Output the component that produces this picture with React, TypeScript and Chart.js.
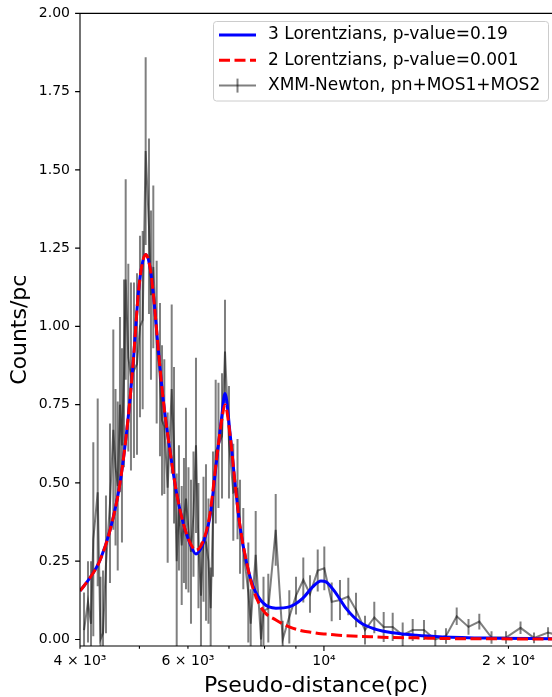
import React, { useEffect, useRef } from 'react';
import { Chart, registerables } from 'chart.js';

Chart.register(...registerables);

const FONT = '"DejaVu Sans", "Liberation Sans", sans-serif';

// Observed data (XMM-Newton, pn+MOS1+MOS2)
const distances = [
  4061, 4122, 4169, 4205, 4275, 4320, 4361, 4410, 4477, 4533,
  4571, 4609, 4648, 4683, 4719, 4749, 4796, 4844, 4899, 4955,
  5011, 5062, 5119, 5183, 5222, 5268, 5335, 5402, 5443, 5490,
  5560, 5645, 5694, 5752, 5801, 5861, 5911, 5956, 6012, 6069,
  6126, 6184, 6242, 6301, 6361, 6421, 6481, 6535, 6592, 6659,
  6729, 6819, 6896, 7000, 7114, 7228, 7296, 7387, 7527, 7595,
  7739, 7895, 7969, 8114, 8343, 8565, 8780, 9004, 9254, 9490,
  9769, 10014, 10296, 10622, 10959, 11280, 11668, 12082, 12516, 12947,
  13442, 13957, 14562, 15193, 15817, 16466, 17212, 17925, 18766, 19817,
  20927, 22016, 23205, 24457,
];
const counts = [
  0.03, 0.12, 0.05, 0.32, 0.47, 0.0, 0.02, 0.24, 0.435, 0.67,
  0.55, 0.49, 0.75, 0.62, 0.85, 1.15, 0.9, 0.84, 0.86, 0.88,
  1.0, 1.02, 1.56, 1.32, 1.1, 1.19, 0.95, 0.83, 0.7, 0.68,
  0.485, 0.8, 0.62, 0.25, 0.42, 0.3, 0.38, 0.45, 0.35, 0.28,
  0.4, 0.62, 0.3, 0.14, 0.32, 0.31, 0.25, 0.1, 0.4, 0.6,
  0.62, 0.65, 0.92, 0.63, 0.47, 0.48, 0.36, 0.29, 0.15, 0.05,
  0.27, 0.0, 0.09, 0.1, 0.35, 0.0, 0.072, 0.14, 0.19, 0.145,
  0.22, 0.227, 0.12, 0.126, 0.137, 0.094, 0.03, 0.07, 0.04, 0.04,
  0.014, 0.03, 0.03, 0.0, 0.011, 0.074, 0.04, 0.057, 0.006, 0.006,
  0.037, 0.005, 0.022, 0.01,
];
const countErrors = [
  0.12, 0.13, 0.2, 0.31, 0.3, 0.2, 0.2, 0.22, 0.255, 0.32,
  0.25, 0.27, 0.28, 0.31, 0.3, 0.32, 0.3, 0.3, 0.28, 0.29,
  0.29, 0.285, 0.3, 0.28, 0.27, 0.26, 0.26, 0.245, 0.24, 0.215,
  0.24, 0.27, 0.25, 0.28, 0.2, 0.19, 0.2, 0.29, 0.2, 0.23,
  0.2, 0.28, 0.2, 0.17, 0.2, 0.25, 0.2, 0.13, 0.2, 0.23,
  0.2, 0.2, 0.165, 0.18, 0.155, 0.16, 0.15, 0.13, 0.16, 0.11,
  0.14, 0.1, 0.11, 0.11, 0.115, 0.06, 0.085, 0.06, 0.072, 0.06,
  0.067, 0.07, 0.062, 0.064, 0.06, 0.055, 0.046, 0.05, 0.048, 0.045,
  0.04, 0.035, 0.032, 0.03, 0.025, 0.028, 0.025, 0.025, 0.02, 0.02,
  0.02, 0.017, 0.017, 0.017,
];

// Model curves
const modelDistances = [
  4000, 4153, 4312, 4478, 4649, 4795, 4887, 4980, 5042, 5119,
  5202, 5267, 5366, 5468, 5607, 5750, 5894, 6045, 6182, 6354,
  6516, 6684, 6811, 6896, 7027, 7160, 7296, 7481, 7669, 7964,
  8350, 8778, 9232, 9586, 9890, 10077, 10464, 10866, 11422, 12161,
  12946, 14134, 15620, 18850, 23553,
];
const threeLorentz = [
  0.155, 0.197, 0.253, 0.349, 0.5, 0.711, 0.89, 1.106, 1.19, 1.23,
  1.19, 1.106, 0.93, 0.765, 0.605, 0.467, 0.371, 0.307, 0.273, 0.307,
  0.39, 0.573, 0.711, 0.786, 0.66, 0.5, 0.36, 0.243, 0.168, 0.116,
  0.1, 0.104, 0.131, 0.168, 0.187, 0.184, 0.147, 0.099, 0.056, 0.032,
  0.021, 0.013, 0.008, 0.004, 0.002,
];
const twoLorentz = [
  0.155, 0.197, 0.253, 0.349, 0.5, 0.711, 0.89, 1.106, 1.19, 1.23,
  1.19, 1.106, 0.93, 0.765, 0.605, 0.467, 0.372, 0.31, 0.285, 0.315,
  0.4, 0.58, 0.7, 0.75, 0.655, 0.5, 0.362, 0.245, 0.16, 0.092,
  0.062, 0.04, 0.027, 0.022, 0.018, 0.017, 0.014, 0.012, 0.01, 0.008,
  0.006, 0.005, 0.003, 0.002, 0.001,
];

const yTickValues = [0, 0.25, 0.5, 0.75, 1.0, 1.25, 1.5, 1.75, 2.0];
const xTickValues = [4000, 5000, 6000, 7000, 8000, 9000, 10000, 20000];
const xMajorTicks = [10000];
const xTickLabels: Record<number, string> = {
  4000: '4 × 10³',
  6000: '6 × 10³',
  10000: '10⁴',
  20000: '2 × 10⁴',
};

const legendLabels = [
  '3 Lorentzians, p-value=0.19',
  '2 Lorentzians, p-value=0.001',
  'XMM-Newton, pn+MOS1+MOS2',
];

const GRAY = 'rgba(0,0,0,0.5)';
const BLUE = '#0000ff';
const RED = '#ff0000';

export default function App() {
  const ref = useRef<HTMLCanvasElement>(null);

  useEffect(() => {
    const canvas = ref.current;
    if (!canvas) return;

    const errorBars = {
      id: 'errorBars',
      beforeDatasetsDraw(chart: any) {
        const { ctx, chartArea: a, scales } = chart;
        const x = scales.x;
        const y = scales.y;
        ctx.save();
        ctx.beginPath();
        ctx.rect(a.left, a.top, a.right - a.left, a.bottom - a.top);
        ctx.clip();
        ctx.strokeStyle = GRAY;
        ctx.lineWidth = 2;
        for (let i = 0; i < distances.length; i++) {
          const px = x.getPixelForValue(distances[i]);
          ctx.beginPath();
          ctx.moveTo(px, y.getPixelForValue(counts[i] - countErrors[i]));
          ctx.lineTo(px, y.getPixelForValue(counts[i] + countErrors[i]));
          ctx.stroke();
        }
        ctx.restore();
      },
    };

    const frame = {
      id: 'frame',
      afterDraw(chart: any) {
        const { ctx, chartArea: a, scales } = chart;
        const x = scales.x;
        const y = scales.y;
        ctx.save();
        ctx.strokeStyle = '#000';
        ctx.lineWidth = 1.1;
        ctx.beginPath();
        ctx.moveTo(a.left, a.top);
        ctx.lineTo(a.left, a.bottom);
        ctx.moveTo(a.left, a.bottom);
        ctx.lineTo(a.right + 2, a.bottom);
        ctx.moveTo(a.left, a.top);
        ctx.lineTo(a.right + 2, a.top);
        ctx.stroke();
        // y ticks
        ctx.beginPath();
        for (const v of yTickValues) {
          const py = y.getPixelForValue(v);
          ctx.moveTo(a.left - 4.9, py);
          ctx.lineTo(a.left, py);
        }
        // x ticks
        for (const v of xTickValues) {
          const px = x.getPixelForValue(v);
          const len = xMajorTicks.includes(v) ? 4.9 : 2.8;
          ctx.moveTo(px, a.bottom);
          ctx.lineTo(px, a.bottom + len);
        }
        ctx.stroke();

        // legend
        const bx = 213.5, by = 21.5, bw = 335, bh = 79.5;
        ctx.beginPath();
        ctx.roundRect(bx, by, bw, bh, 3);
        ctx.fillStyle = 'rgba(255,255,255,0.8)';
        ctx.fill();
        ctx.strokeStyle = '#cccccc';
        ctx.lineWidth = 1;
        ctx.stroke();

        const rows = [35, 60.3, 85.6];
        const hx0 = 219, hx1 = 256;
        // blue
        ctx.lineCap = 'butt';
        ctx.strokeStyle = BLUE;
        ctx.lineWidth = 3;
        ctx.beginPath();
        ctx.moveTo(hx0, rows[0]);
        ctx.lineTo(hx1, rows[0]);
        ctx.stroke();
        // red dashed
        ctx.strokeStyle = RED;
        ctx.setLineDash([11, 4.5]);
        ctx.beginPath();
        ctx.moveTo(hx0, rows[1]);
        ctx.lineTo(hx1, rows[1]);
        ctx.stroke();
        ctx.setLineDash([]);
        // gray with error bar
        ctx.strokeStyle = GRAY;
        ctx.lineWidth = 2;
        ctx.beginPath();
        ctx.moveTo(hx0, rows[2]);
        ctx.lineTo(hx1, rows[2]);
        ctx.stroke();
        ctx.beginPath();
        ctx.moveTo((hx0 + hx1) / 2, rows[2] - 7);
        ctx.lineTo((hx0 + hx1) / 2, rows[2] + 7);
        ctx.stroke();

        ctx.fillStyle = '#000';
        ctx.font = `17px ${FONT}`;
        ctx.textAlign = 'left';
        ctx.textBaseline = 'middle';
        legendLabels.forEach((t, i) => ctx.fillText(t, 268, rows[i]));
        ctx.restore();
      },
    };

    const chart = new Chart(canvas, {
      type: 'line',
      data: {
        datasets: [
          {
            label: legendLabels[1],
            data: modelDistances.map((d, i) => ({ x: d, y: twoLorentz[i] })),
            borderColor: RED,
            borderWidth: 3,
            borderDash: [11, 4.5],
            pointRadius: 0,
            cubicInterpolationMode: 'monotone',
            order: 1,
          },
          {
            label: legendLabels[0],
            data: modelDistances.map((d, i) => ({ x: d, y: threeLorentz[i] })),
            borderColor: BLUE,
            borderWidth: 3,
            pointRadius: 0,
            cubicInterpolationMode: 'monotone',
            order: 2,
          },
          {
            label: legendLabels[2],
            data: distances.map((d, i) => ({ x: d, y: counts[i] })),
            borderColor: GRAY,
            borderWidth: 2,
            pointRadius: 0,
            tension: 0,
            order: 3,
          },
        ],
      },
      options: {
        responsive: false,
        devicePixelRatio: 1,
        animation: false,
        events: [],
        layout: { padding: { top: 13, right: 0, left: 0, bottom: 0 } },
        plugins: {
          legend: { display: false },
          tooltip: { enabled: false },
        },
        scales: {
          x: {
            type: 'logarithmic',
            position: 'bottom',
            min: 4000,
            max: 23553,
            grid: { display: false, drawTicks: true, tickLength: 5 },
            border: { display: false },
            afterBuildTicks: (s: any) => {
              s.ticks = xTickValues.map((value) => ({ value }));
            },
            afterFit: (s: any) => {
              s.height = 51;
            },
            ticks: {
              autoSkip: false,
              maxRotation: 0,
              minRotation: 0,
              padding: 2,
              color: '#000',
              font: { family: FONT, size: 14 },
              callback: (v: any) => xTickLabels[Number(v)] ?? '',
            },
            title: {
              display: true,
              text: 'Pseudo-distance(pc)',
              color: '#000',
              font: { family: FONT, size: 22, lineHeight: 1 },
              padding: { top: 0, bottom: 0 },
            },
          },
          y: {
            type: 'linear',
            min: -0.021,
            max: 2.0,
            grid: { display: false, drawTicks: true, tickLength: 5 },
            border: { display: false },
            afterBuildTicks: (s: any) => {
              s.ticks = yTickValues.map((value) => ({ value }));
            },
            afterFit: (s: any) => {
              s.width = 80;
            },
            ticks: {
              padding: 5,
              color: '#000',
              font: { family: FONT, size: 14 },
              callback: (v: any) => Number(v).toFixed(2),
            },
            title: {
              display: true,
              text: 'Counts/pc',
              color: '#000',
              font: { family: FONT, size: 22, lineHeight: 1 },
              padding: { top: 9.5, bottom: 0 },
            },
          },
        },
      },
      plugins: [errorBars, frame],
    } as any);

    return () => chart.destroy();
  }, []);

  return (
    <div style={{ position: 'fixed', left: 0, top: 0, width: 552, height: 697, background: '#fff' }}>
      <canvas ref={ref} width={552} height={697} style={{ display: 'block', width: 552, height: 697 }} />
    </div>
  );
}
